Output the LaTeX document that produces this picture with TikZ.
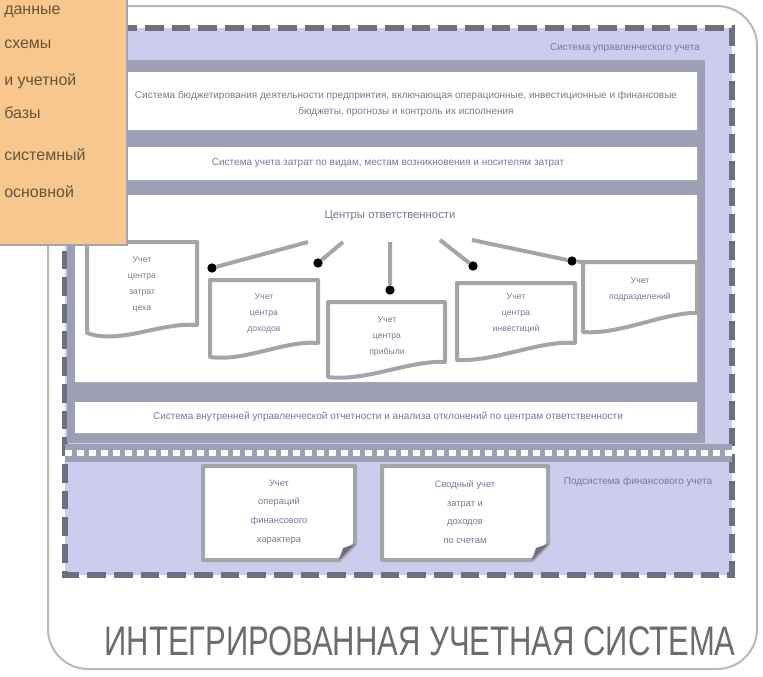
\documentclass[tikz,border=0pt]{standalone}
\usepackage{fontspec}
\setmainfont{Liberation Sans}
\definecolor{lav}{RGB}{204,204,236}
\definecolor{frm}{RGB}{158,158,180}
\definecolor{dsh}{RGB}{110,110,130}
\definecolor{docb}{RGB}{165,165,168}
\definecolor{org}{RGB}{247,199,142}
\definecolor{txt}{RGB}{120,120,150}
\definecolor{ttl}{RGB}{105,110,105}
\definecolor{ntxt}{RGB}{100,85,60}

\begin{document}
\begin{tikzpicture}[x=0.75pt,y=-0.75pt,
  every node/.style={inner sep=0pt,text=txt,font=\fontsize{7.5}{12.5}\selectfont},
  dashline/.style={draw=dsh,line width=5pt,dash pattern=on 14pt off 6pt},
  docline/.style={draw=docb,line width=3pt,fill=white,line join=round},
  boxtext/.style={align=center,font=\fontsize{6.5}{12}\selectfont},
  dot/.style={circle,fill=black,minimum size=7pt},
  link/.style={draw=docb,line width=3pt}]
  \useasboundingbox (0,0) rectangle (763,676);
  \draw[gray!55,line width=1.5pt,fill=white,rounded corners=30pt] (48,6) rectangle (757,669);
  \fill[lav] (65,28) rectangle (732,575);
  \draw[dashline] (65,28) -- (732,28) -- (732,575) -- (65,575) -- cycle;
  \fill[frm] (67,60) rectangle (705,443);
  \fill[white] (75,72) rectangle (697,130) (75,147) rectangle (697,180)
    (75,195) rectangle (697,382) (75,402) rectangle (697,433);
  \fill[frm] (65,444) rectangle (732,462);
  \draw[white,line width=5pt,dash pattern=on 5pt off 4pt] (65,453) -- (732,453);
  \node (mgmt) at (625,48) {Система управленческого учета};
  \node[align=center] (budget) at (406,104) {Система бюджетирования деятельности предприятия, включающая операционные, инвестиционные и финансовые\\бюджеты, прогнозы и контроль их исполнения};
  \node (costs) at (388,163) {Система учета затрат по видам, местам возникновения и носителям затрат};
  \node[font=\fontsize{8.5}{10}\selectfont] (centres) at (390,216) {Центры ответственности};
  \node (report) at (388,417) {Система внутренней управленческой отчетности и анализа отклонений по центрам ответственности};
  \node (fin) at (638,482) {Подсистема финансового учета};
  % responsibility centres
  \draw[docline] (87,242) -- (197,242) -- (197,325) .. controls (160,322) and (120,345) .. (87,333) -- cycle;
  \draw[docline] (210,280) -- (318,280) -- (318,343) .. controls (285,340) and (245,362) .. (210,357) -- cycle;
  \draw[docline] (328,302) -- (445,302) -- (445,362) .. controls (410,360) and (365,382) .. (328,377) -- cycle;
  \draw[docline] (457,283) -- (575,283) -- (575,343) .. controls (540,340) and (495,362) .. (457,360) -- cycle;
  \draw[docline] (583,262) -- (697,262) -- (697,313) .. controls (665,312) and (620,335) .. (583,332) -- cycle;
  \node[boxtext] (u1) at (142,284) {Учет\\центра\\затрат\\цеха};
  \node[boxtext] (u2) at (264,313) {Учет\\центра\\доходов};
  \node[boxtext] (u3) at (387,336) {Учет\\центра\\прибыли};
  \node[boxtext] (u4) at (516,313) {Учет\\центра\\инвестиций};
  \node[boxtext] (u5) at (640,289) {Учет\\подразделений};
  \path (212,268) node[dot] (d1) {} (318,263) node[dot] (d2) {} (390,290) node[dot] (d3) {}
    (473,266) node[dot] (d4) {} (572,261) node[dot] (d5) {};
  \path (308,242) coordinate (c1) (343,242) coordinate (c2) (390,242) coordinate (c3)
    (440,240) coordinate (c4) (472,240) coordinate (c5) (583,262) coordinate (c6);
  \draw[link] (c1) -- (d1) (c2) -- (d2) (c3) -- (d3) (c4) -- (d4) (c5) -- (d5) -- (c6);
  % financial documents
  \draw[docline] (203,466) -- (355,466) -- (355,544) -- (339,560) -- (203,560) -- cycle;
  \fill[dsh] (355,544) -- (339,560) -- (343,548) -- cycle;
  \draw[docline] (382,466) -- (548,466) -- (548,544) -- (532,560) -- (382,560) -- cycle;
  \fill[dsh] (548,544) -- (532,560) -- (536,548) -- cycle;
  \node[boxtext,font=\fontsize{7}{14}\selectfont] (f1) at (279,512) {Учет\\операций\\финансового\\характера};
  \node[boxtext,font=\fontsize{7}{14}\selectfont] (f2) at (465,512) {Сводный учет\\затрат и\\доходов\\по счетам};
  \node[text=ttl] (title) at (420,641) {\scalebox{0.75}[1]{\fontsize{31}{31}\selectfont ИНТЕГРИРОВАННАЯ УЧЕТНАЯ СИСТЕМА}};
  % note
  \fill[org] (0,0) rectangle (127,245);
  \draw[gray!70,line width=1.5pt] (127,0) -- (127,245) -- (0,245);
  \foreach \ly/\txt [count=\i] in {14/данные, 48/схемы, 85/и учетной,
    118/базы, 160/системный, 197/основной}
    \node[anchor=base west,text=ntxt,font=\fontsize{12}{14}\selectfont] (note\i) at (4,\ly) {\txt};
\end{tikzpicture}
\end{document}
